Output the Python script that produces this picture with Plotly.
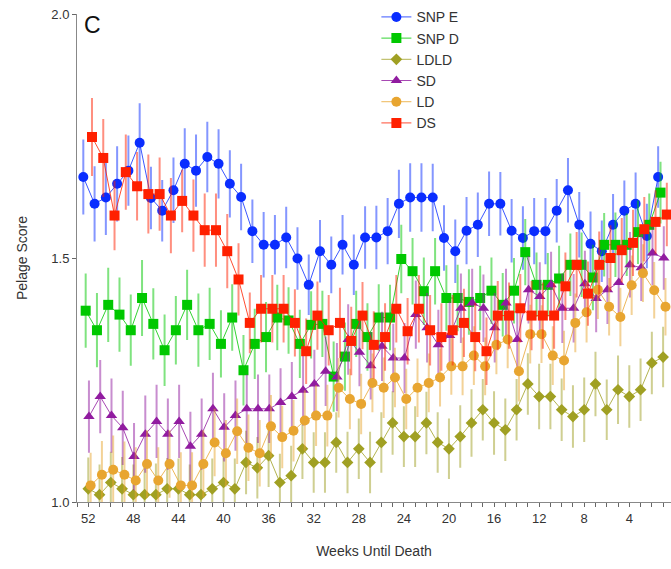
import plotly.graph_objects as go

# Weeks before death, oldest first
weeks = list(range(52, 0, -1))
tick_weeks = [52, 48, 44, 40, 36, 32, 28, 24, 20, 16, 12, 8, 4]
y_ticks = [1.0, 1.5, 2.0]

# Mean pelage score per week for each group
snp_e = [1.666, 1.611, 1.624, 1.652, 1.679, 1.736, 1.623, 1.597, 1.639, 1.693, 1.679, 1.707, 1.693, 1.652, 1.625, 1.555, 1.527,
         1.527, 1.542, 1.499, 1.445, 1.514, 1.486, 1.527, 1.486, 1.542, 1.542, 1.555, 1.611, 1.624, 1.624, 1.624, 1.541, 1.514,
         1.556, 1.568, 1.611, 1.611, 1.556, 1.541, 1.555, 1.555, 1.597, 1.639, 1.568, 1.529, 1.514, 1.568, 1.597, 1.611, 1.545, 1.666]
snp_d = [1.392, 1.352, 1.404, 1.384, 1.352, 1.418, 1.365, 1.311, 1.352, 1.404, 1.352, 1.365, 1.324, 1.378, 1.270, 1.324, 1.338,
         1.378, 1.372, 1.324, 1.363, 1.365, 1.257, 1.298, 1.365, 1.338, 1.378, 1.378, 1.498, 1.473, 1.432, 1.473, 1.418, 1.418,
         1.410, 1.418, 1.433, 1.404, 1.433, 1.512, 1.445, 1.445, 1.458, 1.486, 1.486, 1.460, 1.527, 1.527, 1.527, 1.553, 1.568, 1.634]
ldld = [1.027, 1.015, 1.040, 1.027, 1.015, 1.015, 1.015, 1.027, 1.027, 1.015, 1.015, 1.027, 1.040, 1.027, 1.081, 1.070, 1.095,
        1.040, 1.054, 1.109, 1.081, 1.081, 1.122, 1.081, 1.109, 1.081, 1.122, 1.162, 1.134, 1.134, 1.162, 1.122, 1.109, 1.134,
        1.162, 1.189, 1.162, 1.148, 1.189, 1.242, 1.216, 1.216, 1.189, 1.175, 1.189, 1.242, 1.189, 1.230, 1.216, 1.230, 1.285, 1.297]
sd = [1.175, 1.216, 1.177, 1.152, 1.093, 1.139, 1.165, 1.139, 1.165, 1.114, 1.139, 1.191, 1.153, 1.177, 1.191, 1.191, 1.191,
      1.204, 1.216, 1.229, 1.242, 1.268, 1.256, 1.333, 1.307, 1.279, 1.319, 1.295, 1.295, 1.384, 1.357, 1.322, 1.341, 1.397,
      1.408, 1.397, 1.357, 1.408, 1.333, 1.435, 1.421, 1.445, 1.397, 1.397, 1.447, 1.417, 1.435, 1.450, 1.486, 1.480, 1.510, 1.500]
ld = [1.034, 1.056, 1.066, 1.056, 1.044, 1.078, 1.044, 1.078, 1.034, 1.034, 1.078, 1.122, 1.100, 1.145, 1.111, 1.100, 1.155,
      1.133, 1.146, 1.167, 1.177, 1.177, 1.234, 1.211, 1.201, 1.244, 1.234, 1.255, 1.211, 1.234, 1.244, 1.255, 1.278, 1.278,
      1.300, 1.278, 1.322, 1.333, 1.268, 1.344, 1.344, 1.300, 1.290, 1.367, 1.389, 1.435, 1.400, 1.379, 1.444, 1.469, 1.434, 1.400]
ds = [1.748, 1.705, 1.587, 1.676, 1.647, 1.631, 1.631, 1.587, 1.617, 1.587, 1.557, 1.557, 1.514, 1.456, 1.367, 1.396, 1.396,
      1.396, 1.367, 1.309, 1.382, 1.352, 1.367, 1.330, 1.382, 1.322, 1.338, 1.396, 1.350, 1.396, 1.352, 1.338, 1.352, 1.367,
      1.338, 1.309, 1.382, 1.382, 1.397, 1.382, 1.382, 1.382, 1.442, 1.486, 1.427, 1.486, 1.500, 1.516, 1.531, 1.559, 1.574, 1.589]

# Standard errors per week
snp_e_err = [.075, .075, .075, .075, .070, .079, .062, .061, .065, .071, .072, .070, .069, .067, .066, .063, .065,
             .059, .061, .062, .060, .062, .056, .059, .060, .062, .063, .066, .068, .068, .068, .067, .065, .063,
             .067, .064, .064, .063, .063, .063, .066, .066, .063, .064, .065, .064, .061, .061, .060, .062, .064, .061]
snp_d_err = [.074, .074, .074, .074, .071, .076, .071, .071, .068, .070, .073, .072, .067, .066, .070, .070, .070,
             .065, .066, .068, .067, .066, .070, .068, .066, .067, .066, .065, .068, .066, .067, .066, .065, .066,
             .065, .064, .066, .063, .065, .066, .064, .063, .065, .062, .064, .065, .063, .064, .062, .063, .062, .061]
ldld_err = [.062, .060, .061, .063, .060, .060, .062, .061, .060, .060, .061, .060, .062, .060, .063, .061, .062,
            .057, .059, .060, .060, .060, .060, .061, .060, .061, .060, .063, .060, .060, .062, .060, .060, .062,
            .067, .061, .063, .062, .061, .061, .065, .065, .062, .062, .064, .064, .060, .068, .062, .062, .062, .060]
sd_err = [.072, .073, .074, .074, .067, .077, .073, .071, .073, .069, .071, .072, .068, .070, .068, .068, .068,
          .068, .069, .070, .068, .069, .068, .070, .068, .067, .069, .068, .070, .068, .069, .070, .068, .069,
          .068, .067, .069, .068, .070, .067, .068, .066, .069, .068, .066, .067, .068, .066, .065, .066, .064, .063]
ld_err = [.065, .067, .068, .066, .066, .067, .066, .067, .066, .066, .067, .067, .066, .065, .066, .066, .062,
          .062, .061, .060, .060, .061, .059, .060, .060, .058, .060, .059, .060, .058, .058, .057, .056, .057,
          .058, .057, .058, .057, .060, .058, .057, .058, .059, .058, .060, .058, .057, .058, .059, .057, .056, .057]
ds_err = [.078, .078, .069, .075, .068, .079, .073, .075, .062, .072, .073, .073, .074, .072, .060, .067, .067,
          .067, .067, .065, .068, .070, .070, .068, .067, .067, .067, .067, .066, .067, .070, .067, .070, .068,
          .068, .067, .069, .066, .068, .069, .066, .066, .067, .065, .064, .066, .065, .064, .066, .064, .063, .063]

FONT = "Liberation Sans, Arial, sans-serif"

# name, values, errors, colour (r,g,b), marker symbol, marker size, horizontal offset (weeks)
series = [
    ("SNP E", snp_e, snp_e_err, (10, 45, 255), "circle", 10, -0.44),
    ("SNP D", snp_d, snp_d_err, (0, 200, 0), "square", 10, -0.23),
    ("LDLD", ldld, ldld_err, (160, 160, 35), "diamond", 9, 0.0),
    ("SD", sd, sd_err, (145, 28, 160), "triangle-up", 10, 0.06),
    ("LD", ld, ld_err, (232, 165, 48), "circle", 10, 0.21),
    ("DS", ds, ds_err, (255, 32, 0), "square", 10, 0.33),
]

fig = go.Figure()
for name, vals, errs, (r, g, b), sym, size, off in series:
    solid = f"rgb({r},{g},{b})"
    fig.add_trace(go.Scatter(
        x=[w - off for w in weeks], y=vals, name=name, mode="lines+markers",
        line=dict(color=f"rgba({r},{g},{b},0.8)", width=1),
        marker=dict(symbol=sym, size=size, color=solid, line=dict(width=0)),
        error_y=dict(type="data", array=errs, visible=True,
                     color=f"rgba({r},{g},{b},0.5)", thickness=2, width=1),
    ))

fig.update_layout(
    width=671, height=569,
    margin=dict(l=77, r=0, t=14, b=67),
    paper_bgcolor="white", plot_bgcolor="white",
    font=dict(family=FONT, size=13, color="#333333"),
    showlegend=True,
    legend=dict(x=0.504, y=1.026, xanchor="left", yanchor="top",
                font=dict(family=FONT, size=14, color="#333333"),
                bgcolor="rgba(0,0,0,0)", tracegroupgap=0, itemwidth=30),
    xaxis=dict(range=[53.0, 0.3], tickvals=tick_weeks, ticktext=[str(t) for t in tick_weeks],
               ticks="outside", ticklen=4, tickcolor="#666666", showline=True, linecolor="#888888",
               linewidth=1, showgrid=False, zeroline=False,
               minor=dict(dtick=1, tick0=0, ticks="outside", ticklen=4, tickcolor="#666666"),
               title=dict(text="Weeks Until Death", font=dict(size=14, color="#333333"), standoff=21),
               tickfont=dict(size=13, color="#333333")),
    yaxis=dict(range=[1.0, 2.0], tickvals=y_ticks, ticktext=["1.0", "1.5", "2.0"],
               ticks="outside", ticklen=4, tickcolor="#666666", showline=True, linecolor="#888888",
               linewidth=1, showgrid=False, zeroline=False,
               title=dict(text="Pelage Score", font=dict(size=14, color="#333333"), standoff=20),
               tickfont=dict(size=13, color="#333333")),
)

fig.add_annotation(text="C", x=0.009, y=1.008, xref="paper", yref="paper", xanchor="left", yanchor="top",
                   showarrow=False, font=dict(family=FONT, size=23, color="#111111"))

fig.write_html("out.html")
